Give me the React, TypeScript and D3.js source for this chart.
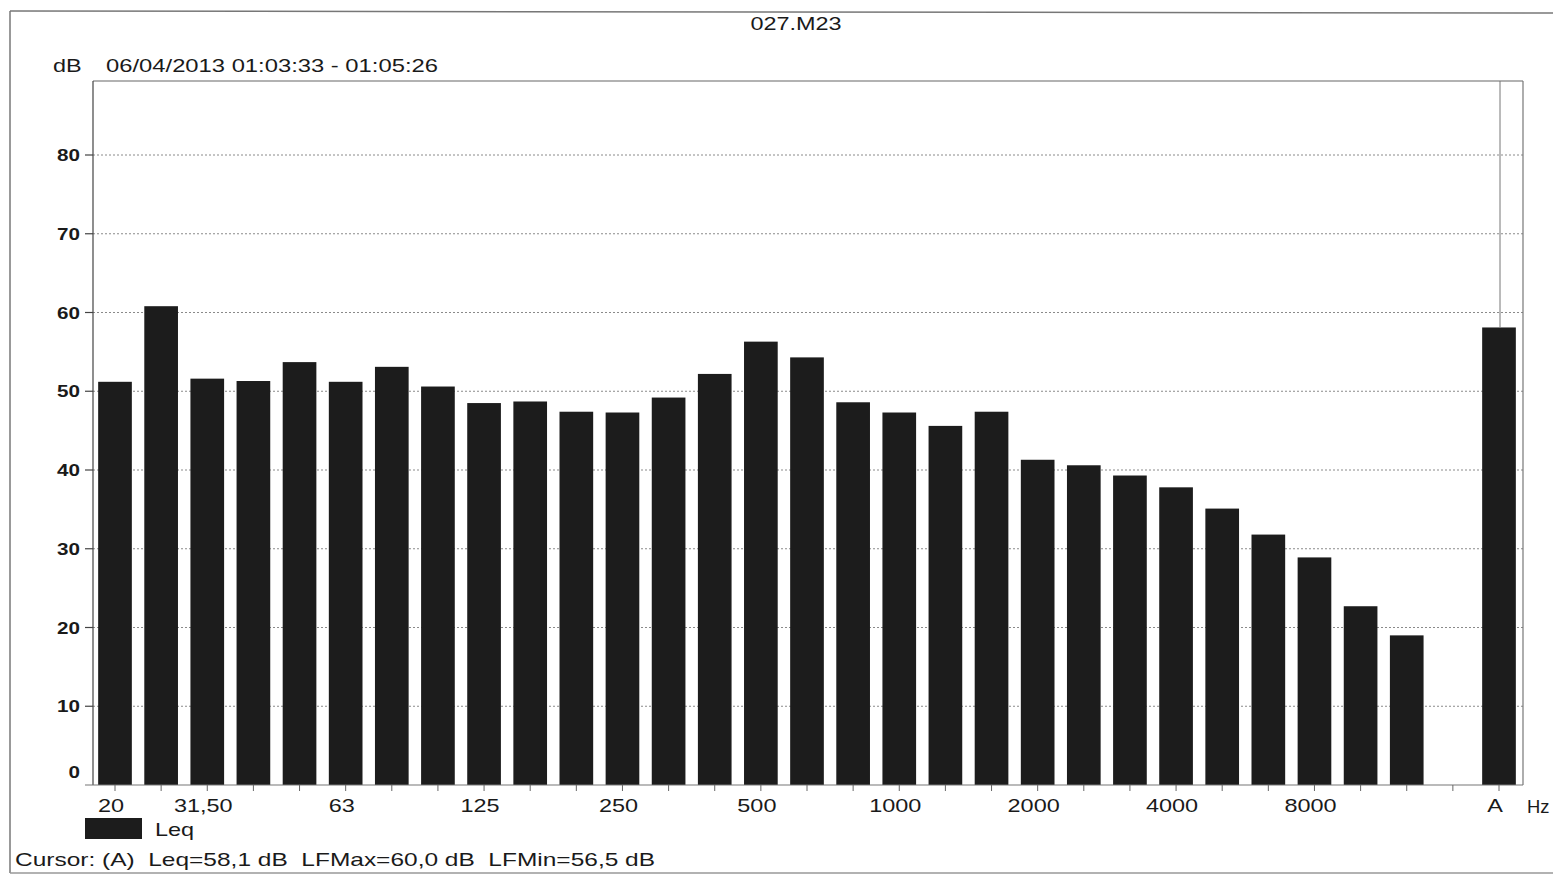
import React from "react";
import * as d3 from "d3";

const bands: string[] = [
  "20", "25", "31.5", "40", "50", "63", "80", "100", "125", "160",
  "200", "250", "315", "400", "500", "630", "800", "1000", "1250", "1600",
  "2000", "2500", "3150", "4000", "5000", "6300", "8000", "10000", "12500", "16000", "A",
];

const leqValues: (number | null)[] = [
  51.2, 60.8, 51.6, 51.3, 53.7, 51.2, 53.1, 50.6, 48.5, 48.7,
  47.4, 47.3, 49.2, 52.2, 56.3, 54.3, 48.6, 47.3, 45.6, 47.4,
  41.3, 40.6, 39.3, 37.8, 35.1, 31.8, 28.9, 22.7, 19.0, null, 58.1,
];

const xTickBands: string[] = ["20", "31.5", "63", "125", "250", "500", "1000", "2000", "4000", "8000", "A"];
const xTickLabels: string[] = ["20", "31,50", "63", "125", "250", "500", "1000", "2000", "4000", "8000", "A"];
const yTicks: number[] = [0, 10, 20, 30, 40, 50, 60, 70, 80];

const titleText = "027.M23";
const dateText = "06/04/2013 01:03:33 - 01:05:26";
const unitText = "dB";
const hzText = "Hz";
const legendText = "Leq";
const cursorText = "Cursor: (A)  Leq=58,1 dB  LFMax=60,0 dB  LFMin=56,5 dB";

const W = 1553;
const H = 877;
const FONT = "'Liberation Sans', Arial, sans-serif";

function SText(props: {
  x: number;
  y: number;
  anchor?: "start" | "middle" | "end";
  size?: number;
  sx?: number;
  weight?: number | string;
  children: React.ReactNode;
}) {
  const { x, y, anchor = "start", size = 17.5, sx = 1.34, weight = "normal", children } = props;
  return (
    <text
      transform={`translate(${x},${y}) scale(${sx},1)`}
      textAnchor={anchor}
      fontFamily={FONT}
      fontSize={size}
      fontWeight={weight}
      fill="#1a1a1a"
      style={{ whiteSpace: "pre" }}
    >
      {children}
    </text>
  );
}

export default function App() {
  const frameLeft = 93;
  const frameRight = 1523;
  const frameTop = 81;
  const frameBottom = 785;

  const x = d3.scalePoint<string>().domain(bands).range([115, 1499]);
  const step = x.step();
  const barW = step * 0.73;
  const y = d3.scaleLinear().domain([0, 80]).range([785, 155]);

  return (
    <>
      <style>{`body{margin:0;overflow:hidden;background:#fff}`}</style>
      <svg
        width={W}
        height={H}
        style={{ position: "absolute", left: 0, top: 0, background: "#fff" }}
      >
        {/* outer page border */}
        <line x1={10} y1={11} x2={W} y2={13} stroke="#777" strokeWidth={1.5} />
        <line x1={10} y1={11} x2={10} y2={873} stroke="#777" strokeWidth={1.5} />
        <line x1={10} y1={873} x2={W} y2={873} stroke="#999" strokeWidth={1.5} />

        {/* title */}
        <SText x={796} y={30} anchor="middle">{titleText}</SText>
        <SText x={53} y={72}>{unitText}</SText>
        <SText x={106} y={72} sx={1.36}>{dateText}</SText>

        {/* gridlines */}
        {yTicks.filter((t) => t > 0).map((t) => (
          <line
            key={"g" + t}
            x1={frameLeft}
            x2={frameRight}
            y1={y(t)}
            y2={y(t)}
            stroke="#8a8a8a"
            strokeWidth={1}
            strokeDasharray="2,2"
          />
        ))}

        {/* bars */}
        {bands.map((b, i) => {
          const v = leqValues[i];
          if (v == null) return null;
          const cx = x(b) as number;
          return (
            <rect
              key={"b" + b}
              x={cx - barW / 2}
              y={y(v)}
              width={barW}
              height={y(0) - y(v)}
              fill="#1c1c1c"
            />
          );
        })}

        {/* frame */}
        <line x1={frameLeft} y1={frameTop} x2={frameRight} y2={frameTop} stroke="#666" strokeWidth={1.2} />
        <line x1={frameRight} y1={frameTop} x2={frameRight} y2={frameBottom} stroke="#777" strokeWidth={1.2} />
        <line x1={frameLeft} y1={frameTop} x2={frameLeft} y2={frameBottom} stroke="#444" strokeWidth={1.2} />
        <line x1={frameLeft - 8} y1={frameBottom} x2={frameRight} y2={frameBottom} stroke="#777" strokeWidth={1.2} />
        {/* cursor line at A */}
        <line
          x1={(x("A") as number) + 1}
          x2={(x("A") as number) + 1}
          y1={frameTop}
          y2={y(leqValues[leqValues.length - 1] as number)}
          stroke="#777"
          strokeWidth={1}
        />

        {/* y ticks + labels */}
        {yTicks.map((t) => (
          <g key={"yt" + t}>
            {t > 0 && (
              <line x1={frameLeft - 8} x2={frameLeft} y1={y(t)} y2={y(t)} stroke="#444" strokeWidth={1.2} />
            )}
            <SText x={80} y={t === 0 ? y(t) - 7 : y(t) + 6} anchor="end" size={16.5} sx={1.25} weight="bold">
              {String(t)}
            </SText>
          </g>
        ))}

        {/* x ticks */}
        {bands.map((b) => (
          <line
            key={"xt" + b}
            x1={x(b) as number}
            x2={x(b) as number}
            y1={frameBottom}
            y2={frameBottom + 6}
            stroke="#666"
            strokeWidth={1}
          />
        ))}
        {xTickBands.map((b, i) => (
          <SText key={"xl" + b} x={(x(b) as number) - 4} y={812} anchor="middle">
            {xTickLabels[i]}
          </SText>
        ))}
        <SText x={1527} y={813} sx={1.05}>{hzText}</SText>

        {/* legend */}
        <rect x={85} y={818} width={57} height={21} fill="#1c1c1c" />
        <SText x={155} y={836}>{legendText}</SText>

        {/* cursor readout */}
        <SText x={15} y={866} sx={1.4}>{cursorText}</SText>
      </svg>
    </>
  );
}
